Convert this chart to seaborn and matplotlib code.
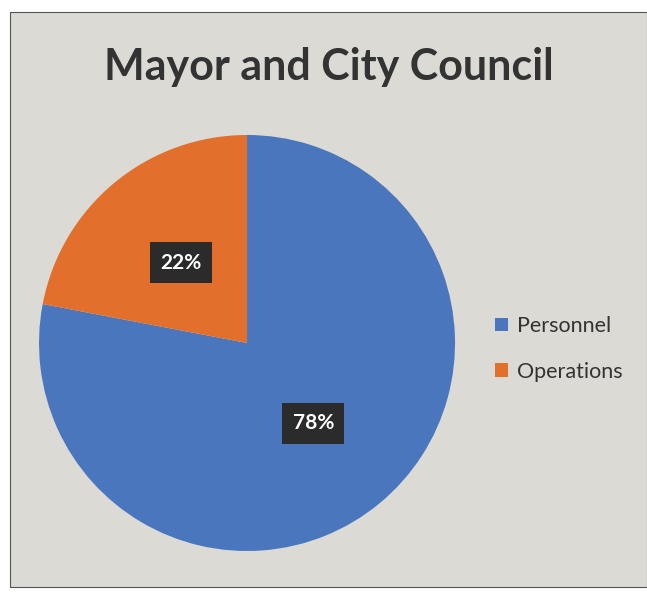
import matplotlib
matplotlib.use("Agg")
import matplotlib.pyplot as plt
from matplotlib.patches import Rectangle
import seaborn as sns

# Budget split for the Mayor and City Council
categories = ["Personnel", "Operations"]
shares = [78, 22]
title = "Mayor and City Council"

sns.set_theme(style="white")
plt.rcParams["font.family"] = ["Lato", "DejaVu Sans"]

colors = ["#4a76bd", "#e2702c"]

fig = plt.figure(figsize=(6.47, 5.96), dpi=100, facecolor="white")

# chart area panel
fig.patches.append(Rectangle((10 / 647, 9 / 596), 1 - 10 / 647, 1 - 21 / 596,
                             transform=fig.transFigure, facecolor="#dcdad5",
                             edgecolor="#555555", linewidth=0.8, zorder=-1))

ax = fig.add_axes([0.0603, 0.0755, 0.643, 0.698])
ax.set_zorder(2)
ax.set_facecolor("none")
wedges, _, autotexts = ax.pie(
    shares, colors=colors, startangle=90, counterclock=False,
    autopct="%d%%", pctdistance=0.5, radius=1,
    wedgeprops=dict(linewidth=0),
    textprops=dict(color="white", fontsize=15, fontweight="bold"),
)
for t in autotexts:
    t.set_bbox(dict(boxstyle="square,pad=0.5", facecolor="#2b2b2b",
                    edgecolor="none"))
ax.set_xlim(-1, 1)
ax.set_ylim(-1, 1)
ax.set_aspect("equal")
ax.axis("off")

fig.text(329 / 647, 1 - 67 / 596, title, ha="center", va="center",
         fontsize=31, fontweight="bold", color="#333333")

leg = fig.legend(wedges, categories, loc="center left",
                 bbox_to_anchor=(476 / 647, 1 - 349 / 596), frameon=False,
                 fontsize=15.5, handlelength=0.6, handleheight=0.6,
                 handletextpad=0.4, labelspacing=1.2, labelcolor="#333333")

fig.savefig("out.png", dpi=100, facecolor=fig.get_facecolor())
